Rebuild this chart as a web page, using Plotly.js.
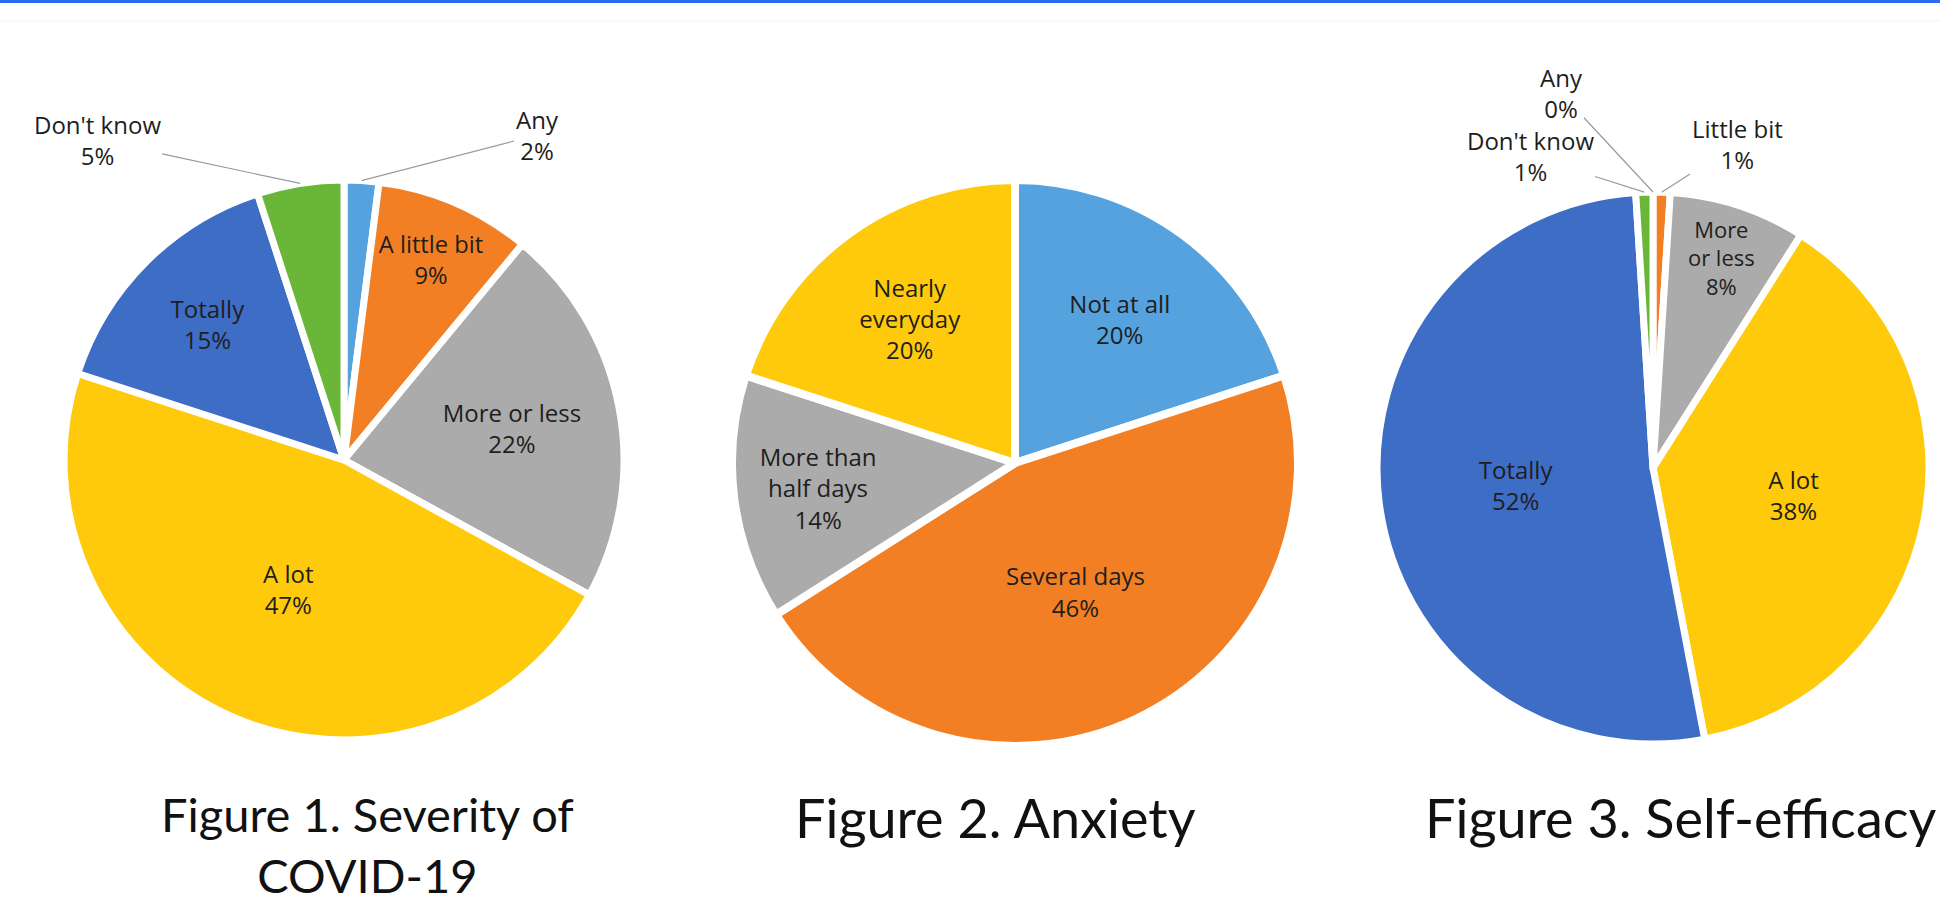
<!DOCTYPE html>
<html>
<head>
<meta charset="utf-8">
<script src="https://cdn.plot.ly/plotly-3.0.1.min.js"></script>
<style>
  html, body { margin: 0; padding: 0; background: #ffffff; }
  #chart { width: 1940px; height: 906px; }
</style>
</head>
<body>
<div id="chart"></div>
<script>
// ---------- data ----------
const fig1Labels = ['Any', 'A little bit', 'More or less', 'A lot', 'Totally', "Don't know"];
const fig1Values = [2, 9, 22, 47, 15, 5];
const fig2Labels = ['Not at all', 'Several days', 'More than<br>half days', 'Nearly<br>everyday'];
const fig2Values = [20, 46, 14, 20];
const fig3Labels = ['Any', 'Little bit', 'More<br>or less', 'A lot', 'Totally', "Don't know"];
const fig3Values = [0, 1, 8, 38, 52, 1];
const figTitles = ['Figure 1. Severity of<br>COVID-19', 'Figure 2. Anxiety', 'Figure 3. Self-efficacy'];

// ---------- style ----------
const W = 1940, H = 906;
const radii = [280, 283, 276];
const centers = [[344, 460], [1015, 463], [1653, 468]];
const titleX = [367, 996, 1681];
const titleSize = [47, 54, 54];
const colors1 = ['#55A2DE', '#F27F24', '#ABABAB', '#FFCA0B', '#3E6DC6', '#6AB638'];
const colors2 = ['#55A2DE', '#F27F24', '#ABABAB', '#FFCA0B'];
const colors3 = ['#55A2DE', '#F27F24', '#ABABAB', '#FFCA0B', '#3E6DC6', '#6AB638'];
const labelFont = { family: '"Open Sans", Lato, sans-serif', size: 24, color: '#1e1e1e' };
const outside1 = [true, false, false, false, false, true];
const outside3 = [true, true, false, false, false, true];

function domainFor(i) {
  const [cx, cy] = centers[i];
  const R = radii[i];
  return { x: [(cx - R) / W, (cx + R) / W], y: [(H - cy - R) / H, (H - cy + R) / H] };
}
function templates(outside) {
  return outside.map(o => o ? '' : '%{label}<br>%{value}%');
}
function pieTrace(labels, values, colors, outside, i, gap) {
  return {
    type: 'pie', labels: labels, values: values, sort: false, direction: 'clockwise', rotation: 0,
    domain: domainFor(i), hole: 0,
    marker: { colors: colors, line: { color: '#ffffff', width: gap } },
    texttemplate: templates(outside), textposition: 'inside', insidetextorientation: 'horizontal',
    insidetextfont: labelFont, textfont: labelFont, showlegend: false, hoverinfo: 'label+value'
  };
}

// callout annotation for a slice, tip derived from the data
function callout(values, labels, idx, pieIdx, textPx) {
  const total = values.reduce((a, b) => a + b, 0);
  let cum = 0;
  for (let k = 0; k < idx; k++) cum += values[k];
  const theta = (cum + values[idx] / 2) / total * 2 * Math.PI;
  const [cx, cy] = centers[pieIdx];
  const R = radii[pieIdx];
  const tipX = cx + R * Math.sin(theta), tipY = cy - R * Math.cos(theta);
  return {
    xref: 'paper', yref: 'paper', x: tipX / W, y: 1 - tipY / H,
    ax: textPx[0] - tipX, ay: textPx[1] - tipY,
    text: labels[idx] + '<br>' + values[idx] + '%',
    showarrow: true, arrowhead: 0, arrowwidth: 1.2, arrowcolor: '#9a9a9a', standoff: 0,
    font: labelFont, align: 'center'
  };
}

const annotations = [
  callout(fig1Values, fig1Labels, 5, 0, [97, 140]),
  callout(fig1Values, fig1Labels, 0, 0, [537, 135]),
  callout(fig3Values, fig3Labels, 0, 2, [1561, 93]),
  callout(fig3Values, fig3Labels, 5, 2, [1530, 156]),
  callout(fig3Values, fig3Labels, 1, 2, [1737, 144])
];
// title 1 (two lines) sits on the bottom edge; the others are centred on its first line
annotations.push({
  xref: 'paper', yref: 'paper', x: titleX[0] / W, y: 1 / H, yanchor: 'bottom', xanchor: 'center',
  text: figTitles[0], showarrow: false, align: 'center',
  font: { family: 'Lato, "Open Sans", sans-serif', size: titleSize[0], color: '#111111' }
});
[1, 2].forEach(i => {
  annotations.push({
    xref: 'paper', yref: 'paper', x: titleX[i] / W, y: 1 - 817 / H,
    yanchor: 'middle', xanchor: 'center',
    text: figTitles[i], showarrow: false, align: 'center',
    font: { family: 'Lato, "Open Sans", sans-serif', size: titleSize[i], color: '#111111' }
  });
});

const data = [
  pieTrace(fig1Labels, fig1Values, colors1, outside1, 0, 7),
  pieTrace(fig2Labels, fig2Values, colors2, [false, false, false, false], 1, 8),
  pieTrace(fig3Labels, fig3Values, colors3, outside3, 2, 7)
];

const layout = {
  width: W, height: H, margin: { l: 0, r: 0, t: 0, b: 0 },
  paper_bgcolor: '#ffffff', plot_bgcolor: '#ffffff',
  showlegend: false,
  annotations: annotations,
  shapes: [
    { type: 'rect', xref: 'paper', yref: 'paper', x0: 0, x1: 1, y0: 1 - 3 / H, y1: 1,
      fillcolor: '#2F6BF2', line: { width: 0 } },
    { type: 'line', xref: 'paper', yref: 'paper', x0: 0, x1: 1, y0: 1 - 21 / H, y1: 1 - 21 / H,
      line: { color: '#f3f3f3', width: 1 } }
  ]
};

Plotly.newPlot('chart', data, layout, { displayModeBar: false, staticPlot: true });
</script>
</body>
</html>
